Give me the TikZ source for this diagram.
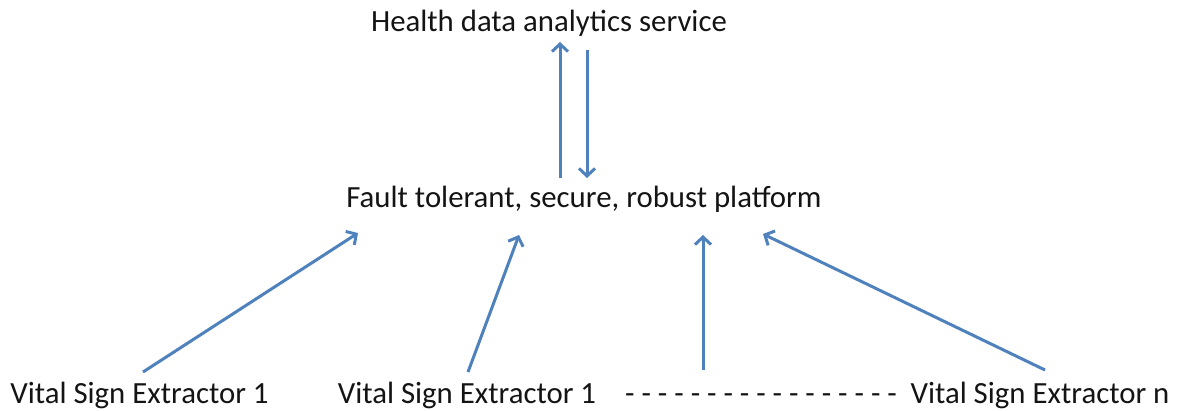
\documentclass[tikz,border=0pt]{standalone}
\usepackage{fontspec}
\setmainfont{Carlito}
\usetikzlibrary{arrows.meta}
\definecolor{arrowblue}{RGB}{79,129,189}
\definecolor{textblack}{RGB}{20,20,20}
\begin{document}
\begin{tikzpicture}[x=1pt,y=-1pt,
  txt/.style={inner sep=0pt, anchor=base, font=\fontsize{30.8}{37}\selectfont, text=textblack},
  flow/.style={draw=arrowblue, line width=3pt, -{Straight Barb[length=7.5pt,width=16pt]}}]
\useasboundingbox (0,0) rectangle (1177,410);
\node[txt] (has) at (549,31) {Health data analytics service};
\node[txt] (plat) at (584,207) {Fault tolerant, secure, robust platform};
\node[txt] (v1) at (139.5,403) {Vital Sign Extractor 1};
\node[txt] (v2) at (467,403) {Vital Sign Extractor 1};
\node[txt, anchor=base west] (dots) at (625,403) {- - - - - - - - - - - - - - - - -};
\node[txt] (vn) at (1040,403) {Vital Sign Extractor n};
% arrow end points
\coordinate (upS) at (560,178);
\coordinate (upE) at (560,42);
\coordinate (dnS) at (587,50);
\coordinate (dnE) at (587,178);
\coordinate (a1S) at (143,372);
\coordinate (a1E) at (358,233);
\coordinate (a2S) at (468,372);
\coordinate (a2E) at (519,235);
\coordinate (a3S) at (703,370);
\coordinate (a3E) at (703,235);
\coordinate (a4S) at (1045,370);
\coordinate (a4E) at (763,234);
\draw[flow] (upS) -- (upE);
\draw[flow] (dnS) -- (dnE);
\draw[flow] (a1S) -- (a1E);
\draw[flow] (a2S) -- (a2E);
\draw[flow] (a3S) -- (a3E);
\draw[flow] (a4S) -- (a4E);
\end{tikzpicture}
\end{document}
